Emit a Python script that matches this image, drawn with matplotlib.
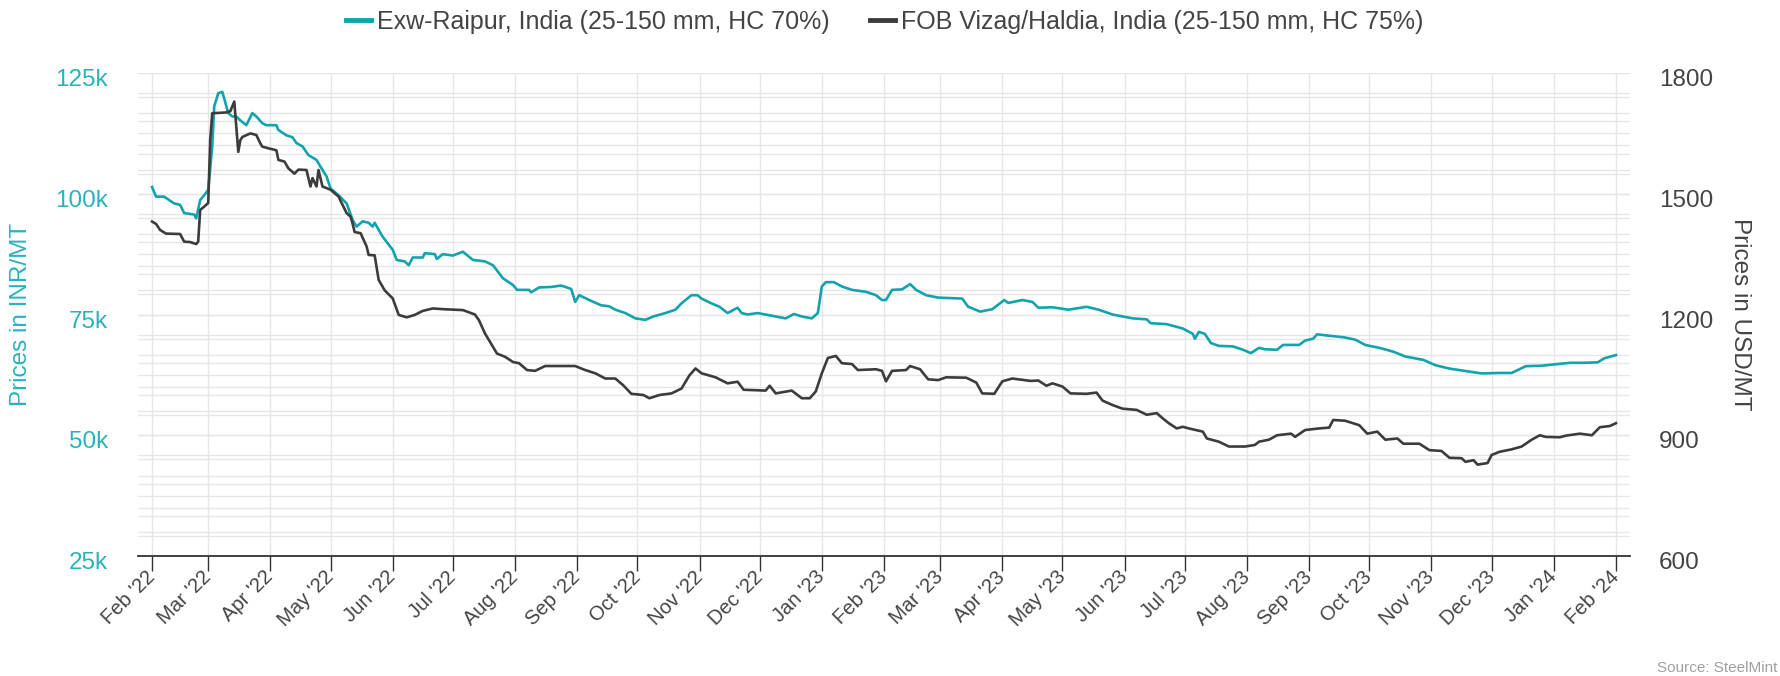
"""Raipur vs Vizag/Haldia price chart (dual axis)."""

import matplotlib

matplotlib.use("Agg")
import matplotlib.dates as mdates
import matplotlib.pyplot as plt
import matplotlib.transforms as mtransforms
import numpy as np
import pandas as pd
from matplotlib.lines import Line2D
from matplotlib.ticker import FuncFormatter, MultipleLocator

plt.rcParams["font.family"] = ["Liberation Sans", "DejaVu Sans"]

# Exw-Raipur, INR/MT (left axis)
RAIPUR_DATES = [
    "2022-02-01", "2022-02-03", "2022-02-07", "2022-02-12", "2022-02-15", "2022-02-17",
    "2022-02-22", "2022-02-23", "2022-02-25", "2022-02-27", "2022-03-01", "2022-03-03",
    "2022-03-04", "2022-03-06", "2022-03-08", "2022-03-09", "2022-03-11", "2022-03-13",
    "2022-03-15", "2022-03-17", "2022-03-20", "2022-03-23", "2022-03-25", "2022-03-28",
    "2022-03-30", "2022-04-04", "2022-04-05", "2022-04-09", "2022-04-12", "2022-04-14",
    "2022-04-17", "2022-04-20", "2022-04-24", "2022-04-26", "2022-04-29", "2022-05-01",
    "2022-05-05", "2022-05-09", "2022-05-12", "2022-05-14", "2022-05-17", "2022-05-20",
    "2022-05-22", "2022-05-23", "2022-05-27", "2022-06-01", "2022-06-03", "2022-06-07",
    "2022-06-09", "2022-06-11", "2022-06-16", "2022-06-17", "2022-06-22", "2022-06-23",
    "2022-06-26", "2022-07-01", "2022-07-06", "2022-07-11", "2022-07-17", "2022-07-21",
    "2022-07-26", "2022-07-31", "2022-08-02", "2022-08-08", "2022-08-09", "2022-08-13",
    "2022-08-19", "2022-08-24", "2022-08-29", "2022-08-31", "2022-09-02", "2022-09-07",
    "2022-09-13", "2022-09-17", "2022-09-20", "2022-09-25", "2022-09-30", "2022-10-05",
    "2022-10-09", "2022-10-15", "2022-10-20", "2022-10-23", "2022-10-28", "2022-10-31",
    "2022-11-02", "2022-11-07", "2022-11-11", "2022-11-15", "2022-11-20", "2022-11-22",
    "2022-11-25", "2022-11-30", "2022-12-09", "2022-12-14", "2022-12-18", "2022-12-22",
    "2022-12-27", "2022-12-30", "2023-01-01", "2023-01-03", "2023-01-07", "2023-01-11",
    "2023-01-16", "2023-01-23", "2023-01-28", "2023-01-31", "2023-02-02", "2023-02-05",
    "2023-02-10", "2023-02-14", "2023-02-17", "2023-02-22", "2023-02-28", "2023-03-12",
    "2023-03-15", "2023-03-21", "2023-03-27", "2023-04-02", "2023-04-04", "2023-04-11",
    "2023-04-16", "2023-04-19", "2023-04-26", "2023-05-04", "2023-05-13", "2023-05-19",
    "2023-05-26", "2023-06-05", "2023-06-12", "2023-06-14", "2023-06-22", "2023-06-30",
    "2023-07-05", "2023-07-06", "2023-07-08", "2023-07-11", "2023-07-14", "2023-07-18",
    "2023-07-25", "2023-07-30", "2023-08-03", "2023-08-07", "2023-08-10", "2023-08-16",
    "2023-08-19", "2023-08-27", "2023-08-30", "2023-09-03", "2023-09-05", "2023-09-11",
    "2023-09-18", "2023-09-24", "2023-09-29", "2023-10-06", "2023-10-13", "2023-10-19",
    "2023-10-28", "2023-11-03", "2023-11-10", "2023-11-18", "2023-11-26", "2023-12-05",
    "2023-12-11", "2023-12-18", "2023-12-26", "2024-01-04", "2024-01-09", "2024-01-16",
    "2024-01-23", "2024-01-26", "2024-02-01",
]
RAIPUR_INR = [
    101400, 99400, 99400, 98000, 97700, 96000,
    95700, 94900, 98700, 99700, 100800, 109800,
    118100, 120800, 121100, 119700, 116700, 116000,
    116000, 115200, 114200, 116700, 116000, 114600,
    114200, 114200, 113200, 112100, 111700, 110500,
    109800, 108000, 107000, 105600, 103600, 101100,
    99700, 98000, 94600, 93200, 94300, 94000,
    93200, 94000, 91100, 88400, 86300, 86000,
    85200, 86800, 86800, 87700, 87500, 86500,
    87500, 87200, 88000, 86300, 86000, 85200,
    82500, 81100, 80100, 80100, 79600, 80600,
    80700, 81000, 80300, 77600, 79000, 78000,
    76900, 76700, 76000, 75300, 74200, 73900,
    74600, 75300, 76000, 77300, 79000, 79000,
    78300, 77300, 76600, 75300, 76400, 75300,
    75000, 75300, 74600, 74200, 75100, 74600,
    74200, 75300, 80800, 81700, 81700, 80800,
    80100, 79700, 79000, 78000, 78000, 80100,
    80200, 81300, 80100, 79000, 78500, 78300,
    76600, 75600, 76100, 78000, 77400, 78000,
    77600, 76400, 76500, 76000, 76600, 76000,
    75000, 74200, 74000, 73200, 73000, 72100,
    71000, 70000, 71400, 71000, 69100, 68500,
    68400, 67700, 67000, 68100, 67800, 67700,
    68700, 68700, 69600, 70000, 70900, 70600,
    70300, 69800, 68700, 68100, 67300, 66300,
    65600, 64500, 63800, 63300, 62800, 62900,
    62900, 64300, 64400, 64800, 65000, 65000,
    65100, 65900, 66600,
]

# FOB Vizag/Haldia, USD/MT (right axis)
VIZAG_DATES = [
    "2022-02-01", "2022-02-03", "2022-02-05", "2022-02-08", "2022-02-15", "2022-02-17",
    "2022-02-20", "2022-02-23", "2022-02-24", "2022-02-25", "2022-02-27", "2022-03-01",
    "2022-03-02", "2022-03-03", "2022-03-10", "2022-03-12", "2022-03-14", "2022-03-15",
    "2022-03-16", "2022-03-17", "2022-03-18", "2022-03-22", "2022-03-25", "2022-03-27",
    "2022-03-28", "2022-03-31", "2022-04-04", "2022-04-05", "2022-04-08", "2022-04-10",
    "2022-04-13", "2022-04-15", "2022-04-19", "2022-04-21", "2022-04-22", "2022-04-24",
    "2022-04-25", "2022-04-27", "2022-05-01", "2022-05-05", "2022-05-09", "2022-05-11",
    "2022-05-12", "2022-05-13", "2022-05-16", "2022-05-19", "2022-05-20", "2022-05-23",
    "2022-05-25", "2022-05-28", "2022-06-01", "2022-06-04", "2022-06-08", "2022-06-12",
    "2022-06-16", "2022-06-21", "2022-06-27", "2022-07-06", "2022-07-12", "2022-07-14",
    "2022-07-17", "2022-07-21", "2022-07-23", "2022-07-27", "2022-07-31", "2022-08-03",
    "2022-08-07", "2022-08-11", "2022-08-16", "2022-08-31", "2022-09-05", "2022-09-10",
    "2022-09-15", "2022-09-20", "2022-09-24", "2022-09-28", "2022-10-04", "2022-10-07",
    "2022-10-12", "2022-10-18", "2022-10-23", "2022-10-27", "2022-10-30", "2022-11-02",
    "2022-11-09", "2022-11-15", "2022-11-20", "2022-11-23", "2022-12-04", "2022-12-06",
    "2022-12-09", "2022-12-17", "2022-12-22", "2022-12-26", "2022-12-29", "2023-01-01",
    "2023-01-04", "2023-01-08", "2023-01-11", "2023-01-16", "2023-01-19", "2023-01-28",
    "2023-01-31", "2023-02-02", "2023-02-05", "2023-02-12", "2023-02-14", "2023-02-19",
    "2023-02-23", "2023-02-28", "2023-03-04", "2023-03-14", "2023-03-19", "2023-03-22",
    "2023-03-28", "2023-04-01", "2023-04-06", "2023-04-15", "2023-04-19", "2023-04-23",
    "2023-04-26", "2023-05-01", "2023-05-05", "2023-05-13", "2023-05-18", "2023-05-21",
    "2023-05-26", "2023-05-31", "2023-06-07", "2023-06-12", "2023-06-17", "2023-06-20",
    "2023-06-23", "2023-06-27", "2023-06-30", "2023-07-03", "2023-07-10", "2023-07-12",
    "2023-07-18", "2023-07-23", "2023-07-31", "2023-08-05", "2023-08-07", "2023-08-12",
    "2023-08-16", "2023-08-23", "2023-08-25", "2023-08-30", "2023-09-06", "2023-09-11",
    "2023-09-13", "2023-09-19", "2023-09-26", "2023-09-30", "2023-10-05", "2023-10-09",
    "2023-10-15", "2023-10-18", "2023-10-26", "2023-10-31", "2023-11-06", "2023-11-10",
    "2023-11-16", "2023-11-18", "2023-11-22", "2023-11-24", "2023-11-29", "2023-12-01",
    "2023-12-05", "2023-12-11", "2023-12-16", "2023-12-21", "2023-12-25", "2023-12-28",
    "2024-01-04", "2024-01-07", "2024-01-14", "2024-01-20", "2024-01-24", "2024-01-29",
    "2024-02-01",
]
VIZAG_USD = [
    1431, 1425, 1410, 1401, 1400, 1381,
    1380, 1375, 1381, 1460, 1468, 1477,
    1633, 1700, 1702, 1705, 1729, 1667,
    1604, 1633, 1641, 1650, 1646, 1625,
    1617, 1613, 1608, 1584, 1580, 1563,
    1550, 1560, 1559, 1518, 1539, 1518,
    1559, 1518, 1510, 1493, 1452, 1443,
    1426, 1405, 1402, 1369, 1348, 1347,
    1286, 1260, 1240, 1199, 1193, 1199,
    1209, 1215, 1213, 1211, 1200, 1186,
    1153, 1120, 1103, 1095, 1082, 1079,
    1062, 1060, 1072, 1072, 1062, 1054,
    1041, 1041, 1024, 1003, 1000, 992,
    1000, 1004, 1016, 1049, 1066, 1054,
    1044, 1029, 1033, 1013, 1011, 1023,
    1004, 1011, 992, 992, 1009, 1054,
    1092, 1097, 1079, 1077, 1062, 1064,
    1060, 1034, 1060, 1062, 1072, 1064,
    1039, 1037, 1044, 1043, 1031, 1004,
    1003, 1034, 1041, 1035, 1036, 1023,
    1029, 1021, 1004, 1003, 1006, 986,
    975, 966, 963, 951, 955, 942,
    930, 917, 921, 917, 909, 892,
    884, 872, 872, 876, 884, 889,
    900, 904, 896, 913, 917, 919,
    938, 936, 925, 904, 909, 889,
    892, 879, 879, 863, 861, 844,
    843, 834, 838, 827, 831, 851,
    859, 865, 872, 889, 900, 896,
    895, 899, 904, 900, 920, 923,
    930,
]

SERIES_LABELS = [
    "Exw-Raipur, India (25-150 mm, HC 70%)",
    "FOB Vizag/Haldia, India (25-150 mm, HC 75%)",
]
MONTH_TICKS = pd.date_range("2022-02-01", "2024-02-01", freq="MS")

TEAL = "#12a3ad"
TEAL_TEXT = "#2ab2bc"
DARK = "#3c3c3c"
GRID = "#e6e6e6"
TEXT = "#444444"

INR_LIM = (25000, 125000)
USD_LIM = (600, 1800)


def inr_from_usd(value):
    # map a right-axis value onto the left-axis scale (for shared gridlines)
    return INR_LIM[0] + (value - USD_LIM[0]) * (INR_LIM[1] - INR_LIM[0]) / (USD_LIM[1] - USD_LIM[0])


def main() -> None:
    fig = plt.figure(figsize=(17.81, 6.76), dpi=100)
    ax = fig.add_axes([0.0775, 0.1775, 0.8377, 0.7145])
    ax2 = ax.twinx()

    ax.plot(pd.to_datetime(RAIPUR_DATES), RAIPUR_INR, color=TEAL, lw=1.9, zorder=3)
    ax2.plot(pd.to_datetime(VIZAG_DATES), VIZAG_USD, color=DARK, lw=1.9, zorder=3)

    ax.set_ylim(*INR_LIM)
    ax2.set_ylim(*USD_LIM)
    pad = pd.Timedelta(days=7)
    ax.set_xlim(MONTH_TICKS[0] - pad, MONTH_TICKS[-1] + pad)

    # x axis: monthly ticks
    ax.set_xticks(MONTH_TICKS)
    ax.xaxis.set_major_formatter(mdates.DateFormatter("%b '%y"))
    ax.tick_params(axis="x", length=11, width=1, color="#333333", pad=2,
                   labelsize=14.5, labelcolor=TEXT)
    plt.setp(ax.get_xticklabels(), rotation=45, ha="right", va="center",
             rotation_mode="anchor")

    # y axes
    ax.yaxis.set_major_locator(MultipleLocator(25000))
    ax.yaxis.set_minor_locator(MultipleLocator(5000))
    ax.yaxis.set_major_formatter(FuncFormatter(lambda v, _: f"{int(v / 1000)}k"))
    ax.tick_params(axis="y", which="both", length=0, pad=21.5, labelsize=17.5,
                   labelcolor=TEAL_TEXT)
    ax2.yaxis.set_major_locator(MultipleLocator(300))
    ax2.tick_params(axis="y", length=0, pad=21, labelsize=17.5, labelcolor=TEXT)

    shift = mtransforms.ScaledTranslation(0, -0.045, fig.dpi_scale_trans)
    for lbl in ax.get_yticklabels() + ax2.get_yticklabels():
        lbl.set_transform(lbl.get_transform() + shift)

    # gridlines
    ax.set_axisbelow(True)
    ax.grid(axis="x", color=GRID, lw=1)
    ax.grid(axis="y", which="both", color=GRID, lw=1)
    for usd in np.arange(USD_LIM[0], USD_LIM[1] + 1, 50):
        ax.axhline(inr_from_usd(usd), color=GRID, lw=1, zorder=0.5)

    for side in ["top", "left", "right"]:
        ax.spines[side].set_visible(False)
    for side in ax2.spines:
        ax2.spines[side].set_visible(False)
    ax.spines["bottom"].set_color("#333333")
    ax.spines["bottom"].set_linewidth(1.3)

    ax.set_ylabel("Prices in INR/MT", color=TEAL_TEXT, fontsize=17.5)
    ax.yaxis.label.set_va("center")
    ax.yaxis.set_label_coords(-0.0785, 0.5)
    ax2.set_ylabel("Prices in USD/MT", color=TEXT, fontsize=17.5, rotation=270)
    ax2.yaxis.label.set_va("center")
    ax2.yaxis.set_label_coords(1.0735, 0.5)

    handles = [Line2D([], [], color=TEAL, lw=3.5), Line2D([], [], color=DARK, lw=3.5)]
    fig.legend(handles, SERIES_LABELS, loc="center", bbox_to_anchor=(0.4966, 0.968),
               ncol=2, frameon=False, fontsize=18, handlelength=1.0, handletextpad=0.25,
               columnspacing=1.6, labelcolor=TEXT)

    fig.text(0.998, 0.002, "Source: SteelMint", ha="right", va="bottom", fontsize=11,
             color="#a0a0a0")

    fig.savefig("out.png", dpi=100)
    plt.close(fig)


if __name__ == "__main__":
    main()
